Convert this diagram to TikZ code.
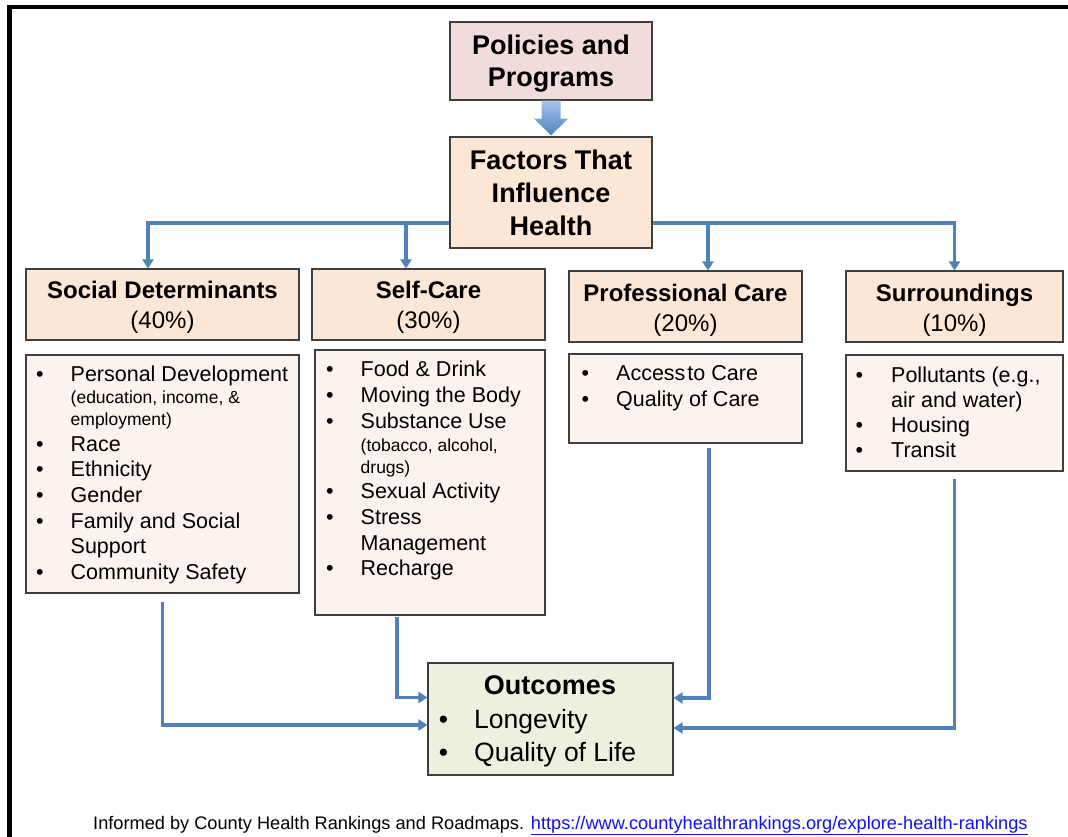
\documentclass[tikz,border=0pt]{standalone}
\usepackage{fontspec}
\setmainfont{Liberation Sans}
\usetikzlibrary{arrows.meta,calc}
\definecolor{polfill}{HTML}{F2DCDB}
\definecolor{catfill}{HTML}{FCE6D6}
\definecolor{listfill}{HTML}{FDF3EE}
\definecolor{outfill}{HTML}{EBF1DE}
\definecolor{edge}{HTML}{3F3F3F}
\definecolor{conncol}{HTML}{4F81BD}
\definecolor{arrowtop}{HTML}{A9C6F0}
\definecolor{linkcol}{HTML}{1010F0}
\newcommand\bu[1]{\llap{\textbullet\hspace{#1pt}}}
\newcommand\lt[5]{\node[#5,anchor=base west] (#1) at (#2,#3) {#4};}
\tikzset{
  box/.style={draw=edge, line width=1.1pt, inner sep=0pt, rectangle},
  lst/.style={inner sep=0pt, font=\fontsize{21.5}{26}\selectfont},
  sml/.style={inner sep=0pt, font=\fontsize{17.5}{22}\selectfont},
  big/.style={inner sep=0pt, font=\fontsize{26.5}{33}\selectfont},
  conn/.style={draw=conncol, line width=3.4pt},
  tip/.style={-{Triangle[length=9pt,width=11pt]}},
  cat/.style={box, fill=catfill},
  cattxt/.style={inner sep=0pt, align=center, font=\fontsize{24}{30}\selectfont},
  lbox/.style={box, fill=listfill},
}
\begin{document}
\begin{tikzpicture}[x=1pt,y=-1pt]
\useasboundingbox (0,0) rectangle (1068,837);
% frame
\draw[line width=4.5pt] (9.5,837) -- (9.5,7) -- (1068,7);

% top boxes
\node[box, fill=polfill, minimum width=202, minimum height=78] (pol) at (551,61) {};
\node[inner sep=0pt, align=center, font=\bfseries\fontsize{27}{32}\selectfont] (polT) at ($(pol.center)+(0,3)$) {Policies and\\Programs};
\node[box, fill=catfill, minimum width=202, minimum height=111, align=center,
      font=\bfseries\fontsize{27}{33}\selectfont] (fac) at (551,192.5) {Factors That\\Influence\\Health};

% block arrow
\shade[top color=arrowtop, bottom color=conncol]
  ($(pol.south)+(-9.5,0)$) -- ($(pol.south)+(9.5,0)$) -- ($(pol.south)+(9.5,18)$)
  -- ($(pol.south)+(17,18)$) -- ($(fac.north)+(0,-1)$) -- ($(pol.south)+(-17,18)$)
  -- ($(pol.south)+(-9.5,18)$) -- cycle;

% category boxes
\node[cat, minimum width=273, minimum height=71] (socT) at (162.5,304.5) {};
\node[cat, minimum width=233, minimum height=71] (careT) at (428.5,304.5) {};
\node[cat, minimum width=233, minimum height=71] (profT) at (685.5,306.5) {};
\node[cat, minimum width=217, minimum height=71] (surT) at (954.5,306.5) {};
\node[cattxt] (socX) at ($(socT.center)+(0,3)$) {\textbf{Social Determinants}\\(40\%)};
\node[cattxt] (careX) at ($(careT.center)+(0,3)$) {\textbf{Self-Care}\\(30\%)};
\node[cattxt] (profX) at ($(profT.center)+(0,3.5)$) {\textbf{Professional Care}\\(20\%)};
\node[cattxt] (surX) at ($(surT.center)+(0,3.5)$) {\textbf{Surroundings}\\(10\%)};

% list boxes
\node[lbox, minimum width=273, minimum height=238] (socL) at (162.5,474) {};
\node[lbox, minimum width=230, minimum height=265] (careL) at (430,482.5) {};
\node[lbox, minimum width=233, minimum height=89] (profL) at (685.5,398.5) {};
\node[lbox, minimum width=217, minimum height=116] (surL) at (954.5,413) {};
\node[box, fill=outfill, minimum width=245, minimum height=112] (out) at (550.5,719) {};

% social list
\lt{s1}{70.5}{381}{\bu{27}Personal Development}{lst}
\lt{s2}{70.5}{403}{(education, income, \&}{sml}
\lt{s3}{70.5}{425}{employment)}{sml}
\lt{s4}{70.5}{451}{\bu{27}Race}{lst}
\lt{s5}{70.5}{476.5}{\bu{27}Ethnicity}{lst}
\lt{s6}{70.5}{502}{\bu{27}Gender}{lst}
\lt{s7}{70.5}{528}{\bu{27}Family and Social}{lst}
\lt{s8}{70.5}{553}{Support}{lst}
\lt{s9}{70.5}{579}{\bu{27}Community Safety}{lst}

% self-care list
\lt{c1}{360.5}{376}{\bu{27}Food \& Drink}{lst}
\lt{c2}{360.5}{402}{\bu{27}Moving the Body}{lst}
\lt{c3}{360.5}{428}{\bu{27}Substance Use}{lst}
\lt{c4}{360.5}{451}{(tobacco, alcohol,}{sml}
\lt{c5}{360.5}{473}{drugs)}{sml}
\lt{c6}{360.5}{498}{\bu{27}Sexual Activity}{lst}
\lt{c7}{360.5}{524}{\bu{27}Stress}{lst}
\lt{c8}{360.5}{550}{Management}{lst}
\lt{c9}{360.5}{575}{\bu{27}Recharge}{lst}

% professional list
\lt{p1}{616}{380}{\bu{27}Access\hspace{2pt}to Care}{lst}
\lt{p2}{616}{406}{\bu{27}Quality of Care}{lst}

% surroundings list
\lt{r1}{891}{382}{\bu{28}Pollutants (e.g.,}{lst}
\lt{r2}{891}{407}{air and water)}{lst}
\lt{r3}{891}{432}{\bu{28}Housing}{lst}
\lt{r4}{891}{457}{\bu{28}Transit}{lst}

% outcomes
\node[inner sep=0pt, anchor=base, font=\bfseries\fontsize{27}{33}\selectfont] (o1) at (550,694.5) {Outcomes};
\lt{o2}{474}{728}{\bu{26}Longevity}{big}
\lt{o3}{474}{761}{\bu{26}Quality of Life}{big}

% top connectors
\coordinate (bus) at (0,223);
\coordinate (dA) at (148,0);
\coordinate (dB) at (406,0);
\coordinate (dC) at (708,0);
\draw[conn,tip] (fac.west |- bus) -| (socT.north -| dA);
\draw[conn,tip] (bus -| dB) -- (careT.north -| dB);
\draw[conn,tip] (fac.east |- bus) -| (surT.north);
\draw[conn,tip] (bus -| dC) -- (profT.north -| dC);

% bottom connectors
\coordinate (yA) at (0,725);
\coordinate (xB) at (397,0);
\coordinate (yB) at (0,697.5);
\coordinate (xC) at (709,0);
\coordinate (yC) at (0,698);
\coordinate (yD) at (0,728);
\draw[conn,tip] ($(socL.south)+(0,8)$) |- (out.west |- yA);
\draw[conn,tip] ($(careL.south -| xB)+(0,1)$) |- (out.west |- yB);
\draw[conn,tip] ($(profL.south -| xC)+(0,4)$) |- (out.east |- yC);
\draw[conn,tip] ($(surL.south)+(0,7)$) |- (out.east |- yD);

% footer
\node[inner sep=0pt, anchor=base west, font=\fontsize{18.2}{20}\selectfont] (foot) at (93,829)
  {Informed by County Health Rankings and Roadmaps. \textcolor{linkcol}{\underline{https://www.countyhealthrankings.org/explore-health-rankings}}};
\end{tikzpicture}
\end{document}
